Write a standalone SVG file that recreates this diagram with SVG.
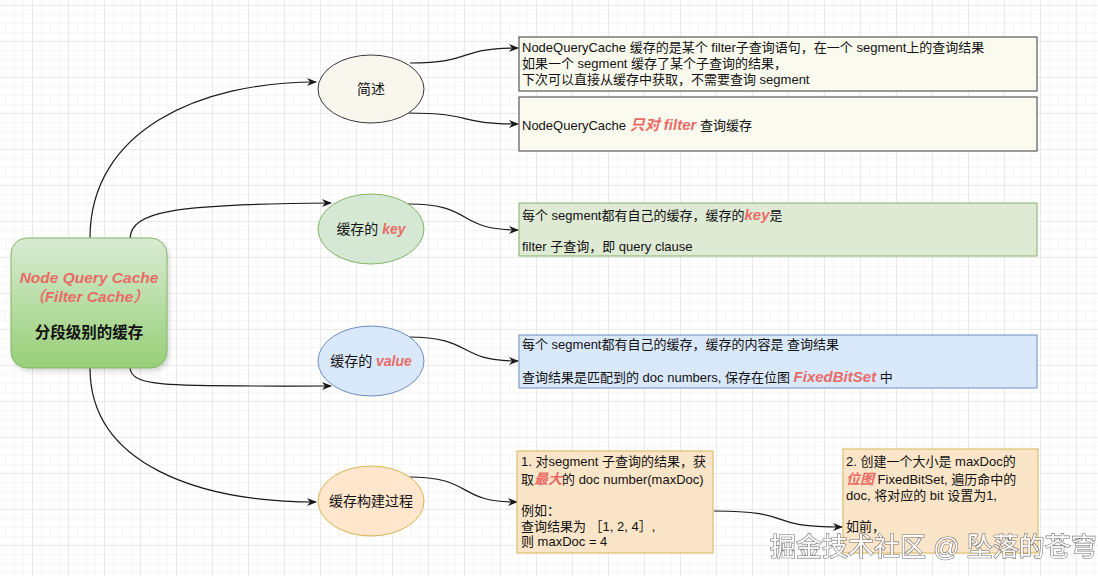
<svg xmlns="http://www.w3.org/2000/svg" width="1098" height="576" viewBox="0 0 1098 576">
<defs>
<pattern id="minor" width="9" height="9" patternUnits="userSpaceOnUse" patternTransform="translate(5,5)">
<path d="M9 0H0V9" fill="none" stroke="#efefef" stroke-width="1"/>
</pattern>
<pattern id="major" width="36" height="36" patternUnits="userSpaceOnUse" patternTransform="translate(32,5)">
<path d="M36 0H0V36" fill="none" stroke="#dedede" stroke-width="1"/>
</pattern>
<linearGradient id="g1" x1="0" y1="0" x2="0" y2="1">
<stop offset="0" stop-color="#d8ebd3"/>
<stop offset="1" stop-color="#97cf78"/>
</linearGradient>
<marker id="arr" viewBox="0 0 10 10" refX="9" refY="5" markerWidth="10" markerHeight="10" markerUnits="userSpaceOnUse" orient="auto">
<path d="M0 1 L10 5 L0 9 L3 5 Z" fill="#1a1a1a"/>
</marker>
<filter id="sh" x="-10%" y="-10%" width="130%" height="130%">
<feDropShadow dx="2" dy="3" stdDeviation="2" flood-color="#000" flood-opacity="0.15"/>
</filter>
</defs>
<style>
text{font-family:"Liberation Sans","Noto Sans CJK SC",sans-serif;fill:#111;}
.t{font-size:13px;}
.l{font-size:14px;text-anchor:middle;}
.r{fill:#ea6b66;font-weight:bold;font-style:italic;}
.edge{fill:none;stroke:#1a1a1a;stroke-width:1.2;marker-end:url(#arr);}
.box{stroke-width:1;}
</style>
<rect width="1098" height="576" fill="#ffffff"/>
<rect width="1098" height="576" fill="url(#minor)"/>
<rect width="1098" height="576" fill="url(#major)"/>

<g id="connectors">
<path class="edge" d="M90,238 C90,130 200,82 316,82"/>
<path class="edge" d="M130,238 C132,212 170,204 331,203"/>
<path class="edge" d="M130,368 C132,388 170,386 331,386"/>
<path class="edge" d="M90,368 C90,465 200,502 316,502"/>
<path class="edge" d="M410,63 C475,63 455,48 518,48"/>
<path class="edge" d="M408,113 C475,113 455,124 518,124"/>
<path class="edge" d="M408,204 C475,204 455,230 518,230"/>
<path class="edge" d="M408,337 C475,337 455,361 518,361"/>
<path class="edge" d="M408,477 C475,477 455,502 517,502"/>
<path class="edge" d="M714,511 C800,511 760,527 842,527"/>
</g>

<g id="root">
<rect x="11" y="238" width="156" height="130" rx="16" fill="url(#g1)" stroke="#82b366" filter="url(#sh)"/>
<text class="l r" x="89" y="283" style="font-size:15.5px">Node Query Cache</text>
<text class="l r" x="89" y="302" style="font-size:15.5px">（Filter Cache）</text>
<text class="l" x="89" y="338" style="font-weight:bold;font-size:15.5px">分段级别的缓存</text>
</g>

<g id="n-intro">
<ellipse cx="371" cy="89" rx="53" ry="34" fill="#f9f7ed" stroke="#36393d"/>
<text class="l" x="371" y="94">简述</text>
</g>
<g id="n-key">
<ellipse cx="371" cy="229" rx="53" ry="35" fill="#d5e8d4" stroke="#82b366"/>
<text class="l" x="371" y="234">缓存的 <tspan class="r">key</tspan></text>
</g>
<g id="n-value">
<ellipse cx="371" cy="361" rx="53" ry="35" fill="#dae8fc" stroke="#6c8ebf"/>
<text class="l" x="371" y="366">缓存的 <tspan class="r">value</tspan></text>
</g>
<g id="n-build">
<ellipse cx="371" cy="501" rx="53" ry="35" fill="#ffe6cc" stroke="#d6b656"/>
<text class="l" x="371" y="506">缓存构建过程</text>
</g>

<g id="b-intro1">
<rect class="box" x="519" y="37" width="518" height="54" fill="#fbfaef" stroke="#36393d"/>
<text class="t" x="522" y="52">NodeQueryCache 缓存的是某个 filter子查询语句，在一个 segment上的查询结果</text>
<text class="t" x="522" y="68">如果一个 segment 缓存了某个子查询的结果，</text>
<text class="t" x="522" y="84">下次可以直接从缓存中获取，不需要查询 segment</text>
</g>
<g id="b-intro2">
<rect class="box" x="519" y="97" width="518" height="54" fill="#fbfaef" stroke="#36393d"/>
<text class="t" x="522" y="130">NodeQueryCache <tspan class="r" style="font-size:15px">只对 filter</tspan> 查询缓存</text>
</g>
<g id="b-key">
<rect class="box" x="519" y="203" width="518" height="53" fill="#dfead5" stroke="#82b366"/>
<text class="t" x="522" y="220">每个 segment都有自己的缓存，缓存的<tspan class="r" style="font-size:15px">key</tspan>是</text>
<text class="t" x="522" y="251">filter 子查询，即 query clause</text>
</g>
<g id="b-value">
<rect class="box" x="519" y="335" width="518" height="53" fill="#dae8fc" stroke="#6c8ebf"/>
<text class="t" x="522" y="349">每个 segment都有自己的缓存，缓存的内容是 查询结果</text>
<text class="t" x="522" y="382">查询结果是匹配到的 doc numbers, 保存在位图 <tspan class="r" style="font-size:15px">FixedBitSet</tspan> 中</text>
</g>
<g id="b-step1">
<rect class="box" x="517" y="451" width="196" height="102" fill="#fbe5c8" stroke="#d6b656"/>
<text class="t" x="521" y="466">1. 对segment 子查询的结果，获</text>
<text class="t" x="521" y="484">取<tspan class="r" style="font-size:14px">最大</tspan>的 doc number(maxDoc)</text>
<text class="t" x="521" y="515">例如：</text>
<text class="t" x="521" y="531">查询结果为 ［1, 2, 4］,</text>
<text class="t" x="521" y="546">则 maxDoc = 4</text>
</g>
<g id="b-step2">
<rect class="box" x="843" y="449" width="195" height="104" fill="#fbe5c8" stroke="#d6b656"/>
<text class="t" x="846" y="466">2. 创建一个大小是 maxDoc的</text>
<text class="t" x="846" y="484"><tspan class="r" style="font-size:14px">位图</tspan> FixedBitSet, 遍历命中的</text>
<text class="t" x="846" y="500">doc, 将对应的 bit 设置为1,</text>
<text class="t" x="846" y="531">如前，</text>
</g>

<text x="770" y="556" style="font-size:26px;fill:#ffffff;stroke:#666666;stroke-width:1.2;paint-order:stroke;opacity:0.92">掘金技术社区 @ 坠落的苍穹</text>
</svg>
